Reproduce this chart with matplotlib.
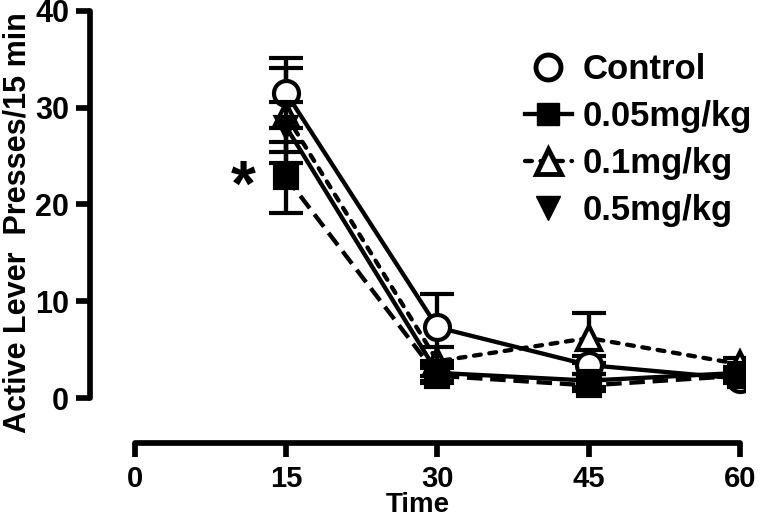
import matplotlib
matplotlib.use("Agg")
import matplotlib.pyplot as plt
from matplotlib.lines import Line2D

# ---- data ----
time = [15, 30, 45, 60]
control = [31.5, 7.3, 3.4, 2.0]
control_err = [3.6, 3.5, 0.9, 0.5]
d005 = [22.8, 2.3, 1.3, 2.3]
d005_err = [3.7, 0.8, 0.6, 0.5]
d01 = [29.2, 3.8, 6.2, 3.5]
d01_err = [4.9, 1.5, 2.6, 0.6]
d05 = [28.0, 2.6, 1.8, 2.6]
d05_err = [2.6, 0.8, 0.7, 0.6]
labels = ["Control", "0.05mg/kg", "0.1mg/kg", "0.5mg/kg"]
xticks = [0, 15, 30, 45, 60]
yticks = [0, 10, 20, 30, 40]

plt.rcParams['font.family'] = ['Liberation Sans', 'DejaVu Sans']
plt.rcParams['font.weight'] = 'bold'

fig = plt.figure(figsize=(7.62, 5.24), dpi=100)
ax = fig.add_axes([90/762, 81/524, 655/762, 441.7/524])

lw = 3.1
common = dict(color='black', lw=lw, elinewidth=lw, capsize=12, capthick=lw,
              markeredgewidth=3, markeredgecolor='black')

ax.errorbar(time, d01, yerr=d01_err, marker='^', ms=17, mfc='white',
            linestyle=(0, (1.6, 2.0)), dash_capstyle='round', zorder=2, **common)
ax.errorbar(time, control, yerr=control_err, marker='o', ms=18, mfc='white',
            linestyle='-', zorder=3, **common)
ax.errorbar(time, d005, yerr=d005_err, marker='s', ms=16, mfc='black',
            linestyle=(0, (3.6, 1.8)), zorder=4, **common)
ax.errorbar(time, d05, yerr=d05_err, marker='v', ms=15, mfc='black',
            linestyle='-', zorder=5, **common)

ax.text(10.7, 21.6, '*', fontsize=46, fontweight='bold', ha='center', va='center')

ax.set_xlim(-4.46, 60.5)
ax.set_ylim(-4.65, 41)
ax.set_xticks(xticks)
ax.set_yticks(yticks)
ax.tick_params(axis='both', width=lw + 1, length=10)
ax.tick_params(axis='x', pad=6, labelsize=21)
ax.tick_params(axis='y', pad=5, labelsize=22)
for s in ['top', 'right']:
    ax.spines[s].set_visible(False)
ax.spines['left'].set_bounds(0, 40)
ax.spines['bottom'].set_bounds(0, 60)
for s in ['left', 'bottom']:
    ax.spines[s].set_linewidth(lw + 1)
    ax.spines[s].set_capstyle('round')
for t in ax.get_xticklabels() + ax.get_yticklabels():
    t.set_fontweight('bold')

ax.set_xlabel('Time', fontsize=20, fontweight='bold', labelpad=-1)
ax.set_ylabel('Active Lever  Presses/15 min', fontsize=22, fontweight='bold', labelpad=2)

handles = [
    Line2D([], [], color='black', marker='o', ms=18, mfc='white', mew=3.5, linestyle='None'),
    Line2D([], [], color='black', marker='s', ms=16, mfc='black', lw=lw, linestyle='-'),
    Line2D([], [], color='black', marker='^', ms=18, mfc='white', mew=3.5, lw=lw,
           linestyle=(0, (1.6, 2.0)), dash_capstyle='round'),
    Line2D([], [], color='black', marker='v', ms=17, mfc='black', linestyle='None'),
]
leg = ax.legend(handles, labels, loc='upper left', bbox_to_anchor=(525/762, 1 - 53/524),
                bbox_transform=fig.transFigure, frameon=False, fontsize=25,
                handlelength=1.35, handletextpad=0.3, labelspacing=0.4,
                borderpad=0, borderaxespad=0)
for t in leg.get_texts():
    t.set_fontweight('bold')

fig.savefig('out.png', dpi=100)
